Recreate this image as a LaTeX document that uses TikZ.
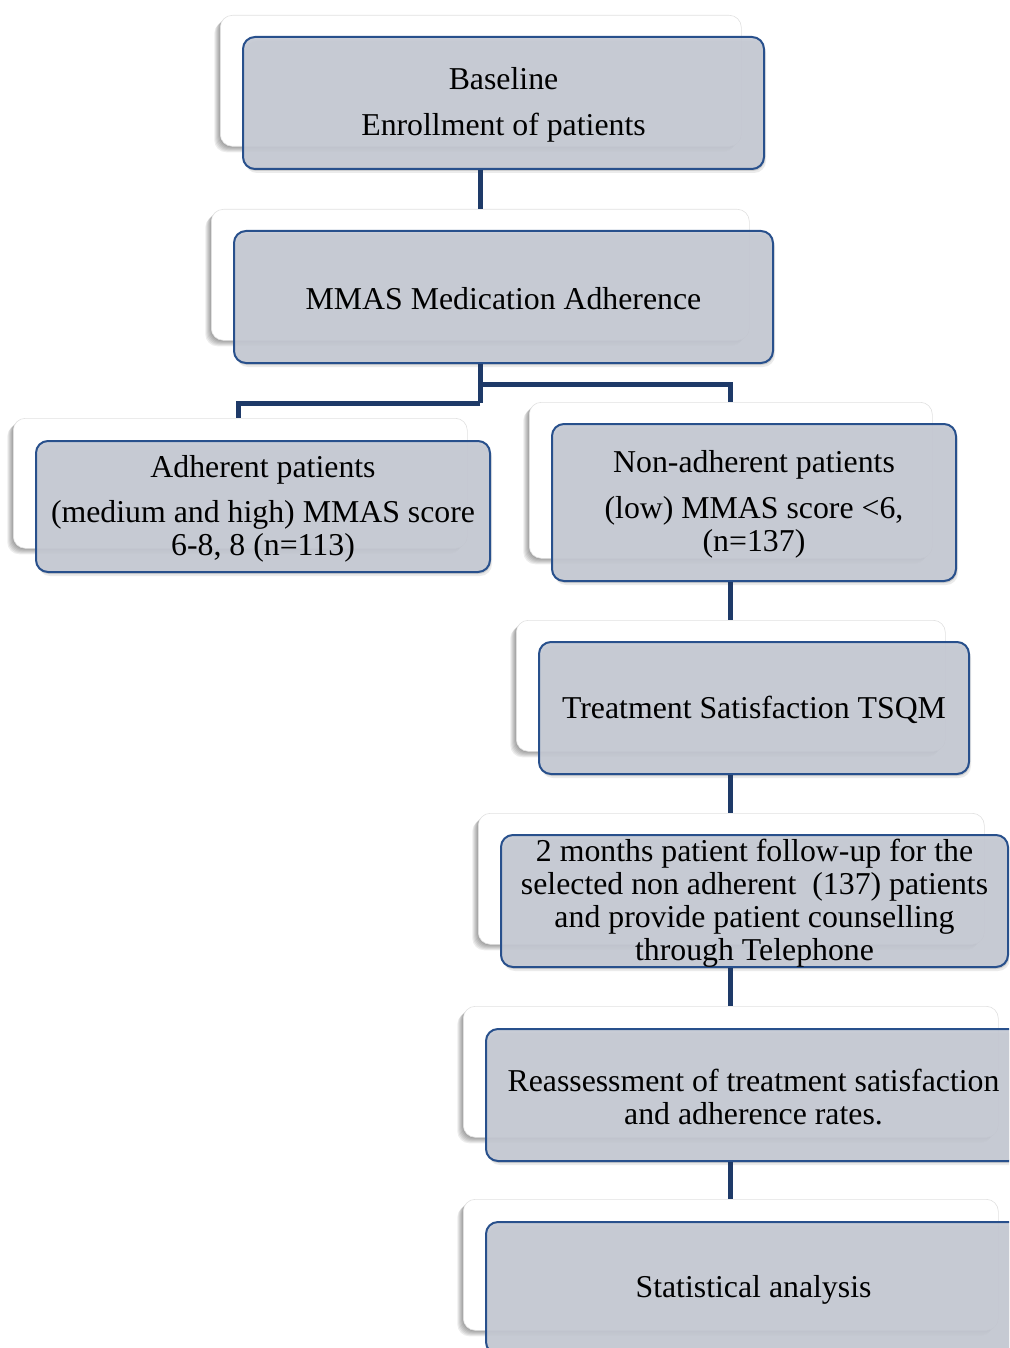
\documentclass[tikz,border=0pt]{standalone}
\usepackage{fontspec}
\setmainfont{Liberation Serif}
\usetikzlibrary{shadows,calc}
\definecolor{frontfill}{RGB}{198,202,212}
\definecolor{frontdraw}{RGB}{40,80,140}
\definecolor{conncol}{RGB}{30,58,104}
\definecolor{backdraw}{RGB}{225,225,225}
\tikzset{
  softshade/.style={general shadow={shadow xshift=-#1pt, shadow yshift=-#1pt, opacity=0.07, fill=black}},
  backbox/.style={draw=backdraw, line width=0.6pt, fill=white, rounded corners=12pt,
    anchor=north west, inner sep=0pt,
    softshade=1, softshade=2, softshade=3, softshade=4, softshade=5, softshade=6},
  frontbox/.style={draw=frontdraw, line width=2pt, fill=frontfill, fill opacity=0.9,
    text opacity=1, rounded corners=12pt, anchor=north west, inner sep=0pt,
    general shadow={shadow xshift=1pt, shadow yshift=-2pt, opacity=0.12, fill=black},
    general shadow={shadow xshift=2pt, shadow yshift=-4pt, opacity=0.08, fill=black}},
  txt/.style={align=center, font=\fontsize{31.8pt}{33pt}\selectfont, inner sep=0pt, yshift=-2pt},
  conn/.style={draw=conncol, line width=5pt}
}
\begin{document}
\begin{tikzpicture}[x=1pt,y=-1pt]
\useasboundingbox (0,0) rectangle (1009,1348);
\begin{scope}
\clip (0,0) rectangle (1009,1348);
\coordinate (cx1) at (480,0);
\coordinate (cxL) at (238,0);
\coordinate (cxR) at (730,0);
% back boxes
\node[backbox, minimum width=521pt, minimum height=131pt] (b1) at (220,15) {};
\node[backbox, minimum width=538pt, minimum height=131pt] (b2) at (211,209) {};
\node[backbox, minimum width=454pt, minimum height=130pt] (b3) at (13,418) {};
\node[backbox, minimum width=403pt, minimum height=156pt] (b4) at (529,402) {};
\node[backbox, minimum width=429pt, minimum height=131pt] (b5) at (516,620) {};
\node[backbox, minimum width=506pt, minimum height=131pt] (b6) at (478,813) {};
\node[backbox, minimum width=535pt, minimum height=131pt] (b7) at (463,1006) {};
\node[backbox, minimum width=535pt, minimum height=131pt] (b8) at (463,1199) {};
% front boxes
\node[frontbox, minimum width=521pt, minimum height=132pt] (f1) at (242,36) {};
\node[frontbox, minimum width=539pt, minimum height=132pt] (f2) at (233,230) {};
\node[frontbox, minimum width=454pt, minimum height=131pt] (f3) at (35,440) {};
\node[frontbox, minimum width=404pt, minimum height=157pt] (f4) at (551,423) {};
\node[frontbox, minimum width=430pt, minimum height=132pt] (f5) at (538,641) {};
\node[frontbox, minimum width=507pt, minimum height=132pt] (f6) at (500,834) {};
\node[frontbox, minimum width=535pt, minimum height=132pt] (f7) at (485,1028) {};
\node[frontbox, minimum width=535pt, minimum height=132pt] (f8) at (485,1221) {};
% connectors
\draw[conn] (f1.south -| cx1) -- (b2.north -| cx1);
\draw[conn] (f2.south -| cx1) -- ($(f2.south -| cx1)+(0,39)$) coordinate (j1);
\draw[conn] ($(f2.south -| cx1)+(0,20)$) -| (b4.north -| cxR);
\draw[conn] (j1) -| (b3.north -| cxL);
\draw[conn] (f4.south -| cxR) -- (b5.north -| cxR);
\draw[conn] (f5.south -| cxR) -- (b6.north -| cxR);
\draw[conn] (f6.south -| cxR) -- (b7.north -| cxR);
\draw[conn] (f7.south -| cxR) -- (b8.north -| cxR);
% texts
\node[txt] (t1) at (f1.center) {Baseline\\[13pt]Enrollment of patients};
\node[txt] (t2) at (f2.center) {MMAS Medication Adherence};
\node[txt] (t3) at (f3.center) {Adherent patients\\[12pt](medium and high) MMAS score\\6-8, 8 (n=113)};
\node[txt] (t4) at (f4.center) {Non-adherent patients\\[13pt](low) MMAS score <6,\\(n=137)};
\node[txt] (t5) at (f5.center) {Treatment Satisfaction TSQM};
\node[txt] (t6) at (f6.center) {2 months patient follow-up for the\\selected non adherent\ \ (137) patients\\and provide patient counselling\\through Telephone};
\node[txt] (t7) at (f7.center) {Reassessment of treatment satisfaction\\and adherence rates.};
\node[txt] (t8) at (f8.center) {Statistical analysis};
\end{scope}
\end{tikzpicture}
\end{document}
